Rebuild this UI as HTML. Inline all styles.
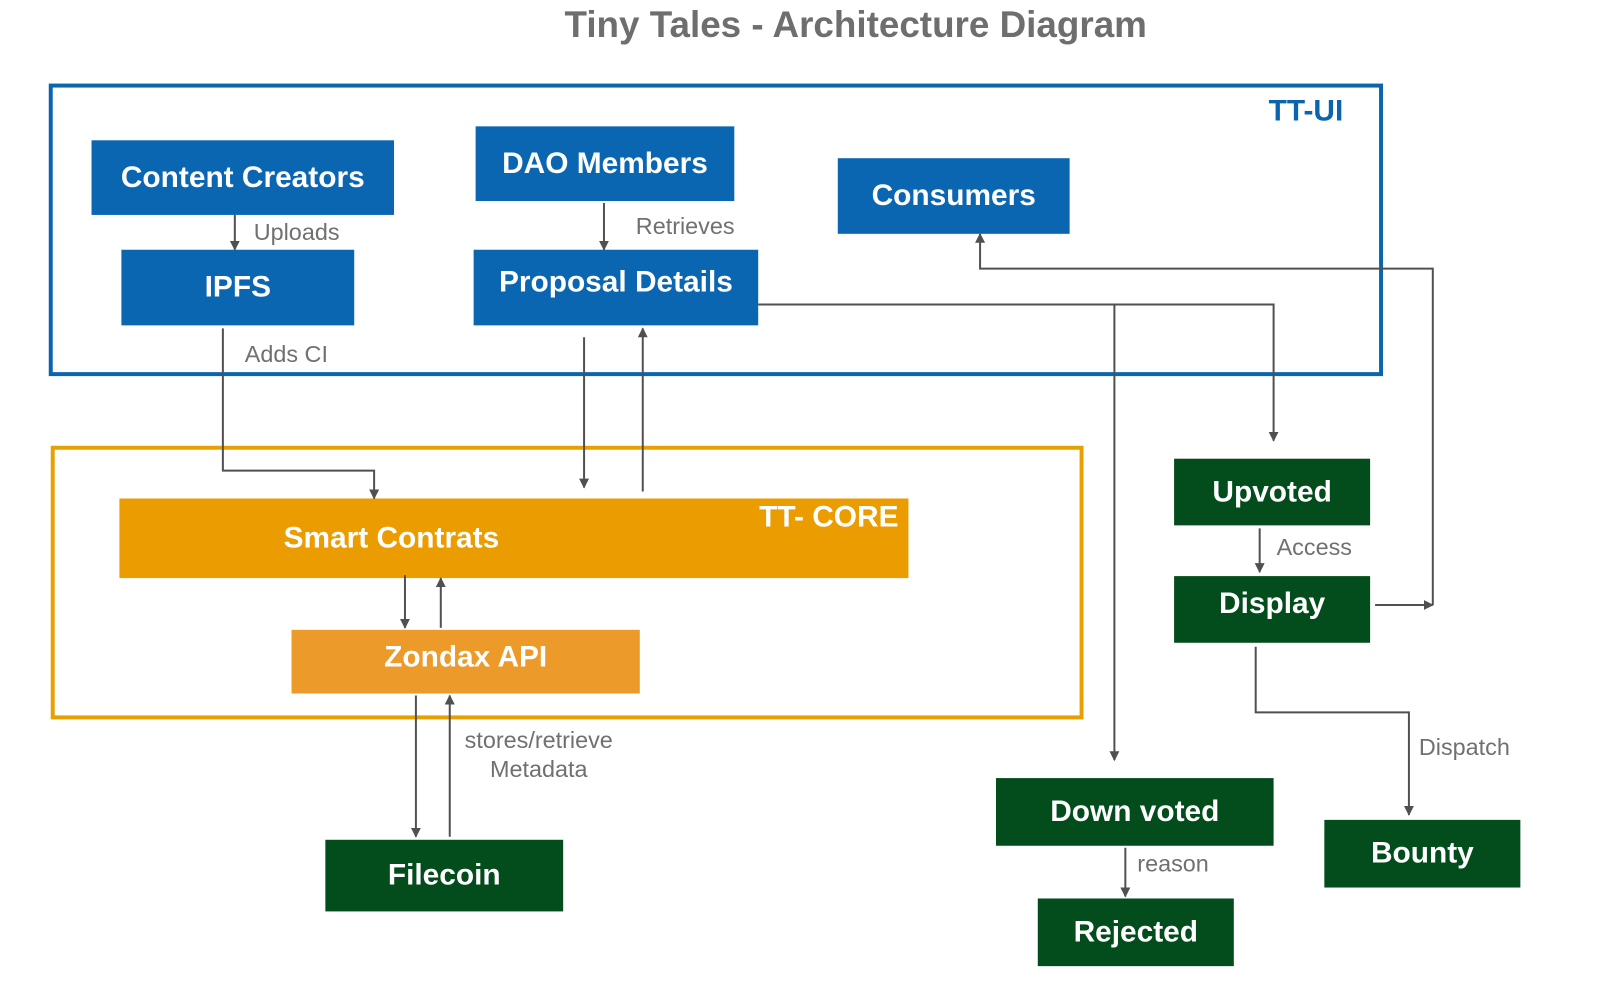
<!DOCTYPE html>
<html><head><meta charset="utf-8"><style>
body{margin:0;width:1600px;height:1000px;background:#fff;position:relative;overflow:hidden;font-family:"Liberation Sans",sans-serif}
#w{position:absolute;left:0;top:0;width:1600px;height:1000px;transform:scale(0.995);transform-origin:0 0}
.b{position:absolute;color:#fff;font-weight:bold;font-size:30px;display:flex;align-items:center;justify-content:center;white-space:nowrap}
.bl{background:#0b66b1}.gr{background:#034d1c}
.l{position:absolute;color:#707070;font-size:23.5px;white-space:nowrap}
</style></head><body><div id="w">
<div class="l" style="left:0;width:1720px;text-align:center;top:4px;font-size:37px;font-weight:bold;color:#6e6e6e">Tiny Tales - Architecture Diagram</div>
<div style="position:absolute;left:49px;top:84px;width:1333px;height:286px;border:4px solid #0b64ae"></div>
<div class="l" style="left:1275px;top:95px;font-size:30px;font-weight:bold;color:#0b64ae">TT-UI</div>
<div style="position:absolute;left:51px;top:448px;width:1030px;height:267px;border:4px solid #e8a000"></div>
<div class="b bl" style="left:92px;top:141px;width:304px;height:75px">Content Creators</div>
<div class="b bl" style="left:478px;top:127px;width:260px;height:75px">DAO Members</div>
<div class="b bl" style="left:842px;top:159px;width:233px;height:76px">Consumers</div>
<div class="b bl" style="left:122px;top:251px;width:234px;height:76px">IPFS</div>
<div class="b bl" style="left:476px;top:251px;width:286px;height:76px;padding-bottom:10px;box-sizing:border-box">Proposal Details</div>
<div class="b" style="left:120px;top:501px;width:793px;height:80px;background:#eb9c00;justify-content:flex-start"><span style="margin-left:165px">Smart Contrats</span></div>
<div class="l" style="left:763px;top:503px;font-size:30px;font-weight:bold;color:#fff">TT- CORE</div>
<div class="b" style="left:293px;top:633px;width:350px;height:64px;background:#ec9a29;padding-bottom:8px;box-sizing:border-box">Zondax API</div>
<div class="b gr" style="left:327px;top:844px;width:239px;height:72px">Filecoin</div>
<div class="b gr" style="left:1180px;top:461px;width:197px;height:67px">Upvoted</div>
<div class="b gr" style="left:1180px;top:579px;width:197px;height:67px;padding-bottom:12px;box-sizing:border-box">Display</div>
<div class="b gr" style="left:1001px;top:782px;width:279px;height:68px">Down voted</div>
<div class="b gr" style="left:1043px;top:903px;width:197px;height:68px">Rejected</div>
<div class="b gr" style="left:1331px;top:824px;width:197px;height:68px">Bounty</div>
<div class="l" style="left:255px;top:220px">Uploads</div>
<div class="l" style="left:639px;top:214px">Retrieves</div>
<div class="l" style="left:246px;top:343px">Adds CI</div>
<div class="l" style="left:1283px;top:537px">Access</div>
<div class="l" style="left:1426px;top:738px">Dispatch</div>
<div class="l" style="left:1143px;top:855px">reason</div>
<div class="l" style="left:467px;top:730px;text-align:center;line-height:29px">stores/retrieve<br>Metadata</div>
<svg width="1600" height="1000" style="position:absolute;left:0;top:0">
<defs><marker id="a" markerWidth="10" markerHeight="10" refX="9" refY="5" orient="auto" markerUnits="userSpaceOnUse"><path d="M0,0L10,5L0,10z" fill="#505050"/></marker></defs>
<g stroke="#505050" stroke-width="2" fill="none" marker-end="url(#a)">
<path d="M236,216V251"/>
<path d="M607,204V251"/>
<path d="M224,330V473H376V501"/>
<path d="M587,339V490"/>
<path d="M646,494V330"/>
<path d="M762,306H1280V443"/>
<path d="M1120,306V764"/>
<path d="M1382,608H1440"/>
<path d="M1440,608V270H985V235" />
<path d="M1266,531V575"/>
<path d="M1262,650V716H1416V819"/>
<path d="M1131,852V901"/>
<path d="M418,699V841"/>
<path d="M452,841V699"/>
<path d="M407,578V631"/>
<path d="M443,631V581"/>
</g>
</svg>
</div></body></html>
